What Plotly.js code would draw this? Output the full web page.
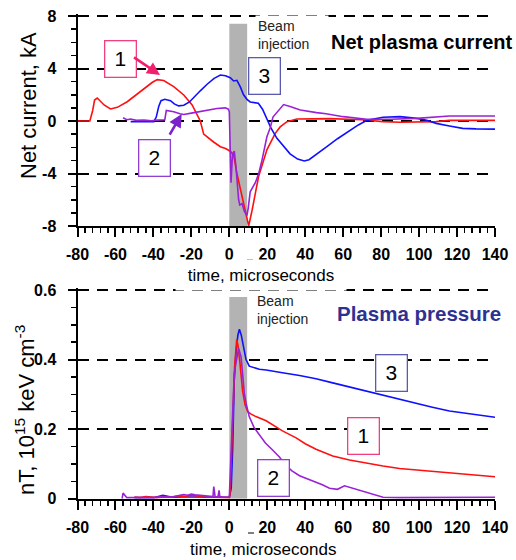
<!DOCTYPE html>
<html>
<head>
<meta charset="utf-8">
<script src="https://cdn.plot.ly/plotly-3.0.1.min.js"></script>
<style>html,body{margin:0;padding:0;background:#fff;}#chart{width:516px;height:560px;}</style>
</head>
<body>
<div id="chart"></div>
<script>
// ---------- Tick labels ----------
const xTickVals = [-80, -60, -40, -20, 0, 20, 40, 60, 80, 100, 120, 140];
const xTickText = ["-80", "-60", "-40", "-20", "0", "20", "40", "60", "80", "100", "120", "140"];
const yTopTickVals = [-8, -4, 0, 4, 8];
const yTopTickText = ["-8", "-4", "0", "4", "8"];
const yBotTickVals = [0, 0.2, 0.4, 0.6];
const yBotTickText = ["0", "0.2", "0.4", "0.6"];

// ---------- Beam injection window (microseconds) ----------
const beamStart = 0;
const beamEnd = 9.4;
const beamTopCurrent = 7.4;
const beamTopPressure = 0.58;

// ---------- Net plasma current (kA) ----------
const cur1_t = [-80, -73.5, -72, -71, -69.6, -66, -62.6, -59, -53.8, -46.8, -40.7, -38, -34.6, -29.3, -24, -19.6, -15.3, -13.5, -10, -8.3, -4.7, -2, 0.5, 2.3, 4, 6.7, 10.2, 12, 15.4, 19.8, 22, 24.2, 26.8, 30.4, 35.6, 53, 70, 81, 90, 99, 109, 116, 140];
const cur1_v = [0, 0, 0.8, 1.6, 1.75, 1.22, 0.92, 1.04, 1.47, 2.24, 2.93, 3.15, 3.08, 2.62, 1.98, 1.22, 0.0, -1.0, -1.45, -1.6, -1.96, -2.1, -2.3, -2.6, -4.0, -5.8, -8.0, -6.8, -4.25, -2.2, -1.5, -0.94, -0.45, -0.05, 0.15, 0.18, 0.1, -0.05, -0.1, -0.1, -0.05, 0.05, 0.05];

const cur2_t = [-56, -54, -52, -49, -45, -41, -38, -34, -33.2, -32, -29.3, -26, -24, -20, -15.3, -10, -6.5, -2.1, -0.5, 0, 0.3, 0.9, 1.5, 1.8, 2.6, 3.5, 4.9, 5.5, 6.7, 8, 9.3, 10, 11, 13.7, 15.5, 17.2, 19.8, 21.6, 23, 25, 28.6, 32, 37.4, 46, 51, 60, 72.5, 84.7, 98.8, 116, 140];
const cur2_v = [0.25, 0.1, 0.15, 0.05, 0.07, 0.02, 0.07, 0.1, 0.8, 0.78, 0.7, 0.55, 0.5, 0.6, 0.72, 0.85, 0.95, 1.0, 0.9, 0.7, -1.7, -4.7, -3.0, -2.5, -2.3, -3.5, -6.0, -6.4, -6.3, -6.9, -7.2, -6.6, -5.4, -4.7, -4.0, -3.0, -1.2, -0.5, 0.3, 0.65, 1.25, 1.1, 0.84, 0.64, 0.55, 0.33, 0.13, 0.13, 0.2, 0.38, 0.38];

const cur3_t = [-52, -45, -39.8, -38.5, -37.2, -36, -34, -31, -29, -26.7, -24, -21, -18.8, -15.3, -11.7, -8, -4.7, -2, 0.5, 2.3, 4, 5.8, 7.5, 9.3, 11, 13, 15.3, 17.5, 19.8, 22, 25, 28.6, 32, 36, 39.5, 42, 46, 51.4, 57, 63.7, 68, 72.5, 77, 81, 90, 98.8, 104, 109, 116, 123, 130, 140];
const cur3_v = [-0.05, -0.08, -0.05, 0.3, 1.1, 1.55, 1.65, 1.55, 1.3, 1.15, 1.2, 1.45, 1.8, 2.3, 2.8, 3.25, 3.5, 3.45, 3.3, 3.05, 3.1, 2.6, 2.0, 1.65, 1.45, 1.4, 1.35, 0.9, 0.1, -0.55, -1.3, -1.95, -2.5, -2.9, -3.05, -2.95, -2.55, -1.96, -1.35, -0.7, -0.3, 0.05, 0.2, 0.28, 0.33, 0.2, 0.05, -0.18, -0.38, -0.56, -0.6, -0.62];

// ---------- Plasma pressure (1e15 keV cm^-3) ----------
const pr1_t = [-50, -47, -44, -41, -38, -35, -32, -29, -26, -23, -20, -17, -14, -11, -8, -5, -2, 0, 0.5, 1.2, 1.8, 2.8, 3.9, 4.6, 5.6, 7, 8.3, 9.7, 11.5, 14, 19.4, 24.6, 28, 35.2, 40, 45.7, 54.5, 63.3, 72, 81, 89.7, 98.5, 107, 116, 125, 132, 140];
const pr1_v = [0.005, 0.003, 0.006, 0.004, 0.003, 0.005, 0.004, 0.006, 0.008, 0.007, 0.01, 0.008, 0.005, 0.004, 0.004, 0.003, 0.003, 0.003, 0.02, 0.12, 0.26, 0.38, 0.458, 0.44, 0.39, 0.31, 0.27, 0.25, 0.243, 0.236, 0.224, 0.207, 0.195, 0.175, 0.158, 0.142, 0.123, 0.111, 0.102, 0.094, 0.087, 0.083, 0.08, 0.075, 0.071, 0.068, 0.063];

const pr2_t = [-56.5, -56, -54, -50, -45, -40, -35, -30, -26, -24, -22, -20, -18, -16, -14, -12, -10, -8.6, -8.2, -7.5, -6, -5.4, -5, -3, 0, 0.9, 1.8, 2.6, 3.5, 4.9, 6.2, 7.9, 9, 10.5, 13, 15.8, 19, 22.8, 26.4, 29.9, 33, 37, 42, 45.7, 49, 52.8, 57, 60.7, 65, 70.4, 74, 77.4, 81, 90, 100, 110, 120, 130, 140];
const pr2_v = [0.0, 0.016, 0.003, 0.003, 0.004, 0.003, 0.006, 0.005, 0.01, 0.012, 0.01, 0.013, 0.011, 0.01, 0.008, 0.006, 0.005, 0.006, 0.035, 0.006, 0.005, 0.024, 0.006, 0.004, 0.004, 0.12, 0.26, 0.36, 0.39, 0.432, 0.408, 0.303, 0.27, 0.236, 0.205, 0.185, 0.16, 0.14, 0.12, 0.095, 0.08, 0.066, 0.055, 0.049, 0.04, 0.03, 0.027, 0.037, 0.03, 0.02, 0.014, 0.008, 0.004, 0.003, 0.003, 0.003, 0.003, 0.004, 0.004];

const pr3_t = [-50, -45, -40, -35, -30, -25, -20, -15, -10, -5, 0, 1, 1.8, 2.6, 3.5, 4.5, 5.3, 6.3, 7.4, 8.8, 10.5, 15.8, 19.4, 26.4, 28, 37, 45.7, 54.5, 63.3, 72, 81, 89.7, 98.5, 107, 116, 125, 132, 140];
const pr3_v = [0.003, 0.004, 0.003, 0.01, 0.004, 0.005, 0.006, 0.005, 0.004, 0.004, 0.004, 0.03, 0.15, 0.34, 0.42, 0.47, 0.487, 0.47, 0.437, 0.40, 0.381, 0.372, 0.37, 0.365, 0.362, 0.354, 0.345, 0.333, 0.321, 0.31, 0.298, 0.286, 0.274, 0.263, 0.252, 0.245, 0.24, 0.234];

// ---------- styling ----------
const RED = '#ff1010', BLUE = '#1010ff', PURPLE = '#9a22d6';
const FONT = 'Liberation Sans, Arial, sans-serif';
const W = 516, H = 560;
const px = v => v / W;
const py = v => 1 - v / H;

function line(x, y, color, xa, ya) {
  return {x: x, y: y, xaxis: xa, yaxis: ya, type: 'scatter', mode: 'lines',
          line: {color: color, width: 1.6}, hoverinfo: 'skip', showlegend: false};
}

const data = [
  line(cur1_t, cur1_v, RED, 'x', 'y'),
  line(cur3_t, cur3_v, BLUE, 'x', 'y'),
  line(cur2_t, cur2_v, PURPLE, 'x', 'y'),
  line(pr3_t, pr3_v, BLUE, 'x2', 'y2'),
  line(pr1_t, pr1_v, RED, 'x2', 'y2'),
  line(pr2_t, pr2_v, PURPLE, 'x2', 'y2')
];

const xDomain = [77.5 / W, 495 / W];
function xaxisDef(anchor) {
  return {
    domain: xDomain, anchor: anchor, range: [-80, 140],
    tickmode: 'array', tickvals: xTickVals, ticktext: xTickText,
    showgrid: false, zeroline: false,
    showline: true, linecolor: '#000', linewidth: 2,
    ticks: 'outside', ticklen: 9, tickwidth: 2, tickcolor: '#000',
    ticklabelstandoff: 4,
    minor: {dtick: 4, tick0: 0, ticks: 'outside', ticklen: 5, tickwidth: 1.5, tickcolor: '#000', showgrid: false},
    tickfont: {family: FONT, size: 16, color: '#000', weight: 'bold'}
  };
}
function yaxisDef(anchor, dom, range, vals, text, minorStep) {
  return {
    domain: dom, anchor: anchor, range: range,
    tickmode: 'array', tickvals: vals, ticktext: text,
    showgrid: true, gridcolor: '#000', gridwidth: 2, griddash: '11px,8px',
    zeroline: false,
    showline: true, linecolor: '#000', linewidth: 2,
    ticks: 'outside', ticklen: 8, tickwidth: 2, tickcolor: '#000',
    ticklabelstandoff: 8,
    minor: {dtick: minorStep, tick0: 0, ticks: 'outside', ticklen: 5, tickwidth: 1.5, tickcolor: '#000', showgrid: false},
    tickfont: {family: FONT, size: 16, color: '#000', weight: 'bold'}
  };
}

function box(label, xp, yp, color) {
  return {xref: 'paper', yref: 'paper', x: px(xp), y: py(yp), xanchor: 'center', yanchor: 'middle',
          text: label, showarrow: false, font: {family: FONT, size: 21, color: '#000'},
          bgcolor: '#fff', bordercolor: color, borderwidth: 1.3, borderpad: 0, width: 30, height: 35};
}
function arrow(xa, ya, hx, hy, ax, ay, color) {
  return {xref: xa, yref: ya, x: hx, y: hy, ax: ax, ay: ay, axref: 'pixel', ayref: 'pixel',
          text: ' ', showarrow: true, arrowhead: 2, arrowsize: 1, arrowwidth: 2.6, arrowcolor: color,
          standoff: 0, startstandoff: 0, font: {size: 4}};
}

const annotations = [
  {xref: 'paper', yref: 'paper', x: px(28), y: py(106), text: 'Net current, kA', textangle: -90,
   showarrow: false, font: {family: FONT, size: 22, color: '#000'}, xanchor: 'center', yanchor: 'middle'},
  {xref: 'paper', yref: 'paper', x: px(25), y: py(410), text: 'nT, 10<sup>15</sup> keV cm<sup>-3</sup>', textangle: -90,
   showarrow: false, font: {family: FONT, size: 22, color: '#000'}, xanchor: 'center', yanchor: 'middle'},
  {xref: 'paper', yref: 'paper', x: px(261), y: py(275), text: 'time, microseconds', showarrow: false,
   font: {family: FONT, size: 17, color: '#000'}, xanchor: 'center', yanchor: 'middle',
   bgcolor: '#fff', width: 170, height: 30, borderpad: 0},
  {xref: 'paper', yref: 'paper', x: px(263), y: py(549), text: 'time, microseconds', showarrow: false,
   font: {family: FONT, size: 17, color: '#000'}, xanchor: 'center', yanchor: 'middle'},
  {xref: 'paper', yref: 'paper', x: px(422), y: py(42), text: 'Net plasma current', showarrow: false,
   font: {family: FONT, size: 20, color: '#000', weight: 'bold'}, xanchor: 'center', yanchor: 'middle', borderpad: 0},
  {xref: 'paper', yref: 'paper', x: px(335), y: py(313), text: 'Plasma pressure', showarrow: false,
   font: {family: FONT, size: 20.5, color: '#2e3192', weight: 'bold'}, xanchor: 'left', yanchor: 'middle'},
  {xref: 'paper', yref: 'paper', x: px(255), y: py(34.5), text: 'Beam<br>injection', showarrow: false, align: 'left',
   font: {family: FONT, size: 14, color: '#222'}, xanchor: 'left', yanchor: 'middle',
   bgcolor: '#fff', width: 68, borderpad: 2},
  {xref: 'paper', yref: 'paper', x: px(255), y: py(310), text: 'Beam<br>injection', showarrow: false, align: 'left',
   font: {family: FONT, size: 14, color: '#222'}, xanchor: 'left', yanchor: 'middle', width: 68},
  box('1', 120, 59.5, '#f0407f'),
  box('2', 154.5, 157.5, '#9040d0'),
  box('3', 264, 76, '#5a5ab0'),
  box('3', 391.5, 373, '#5a5ab0'),
  box('1', 363, 435.5, '#f0407f'),
  box('2', 273, 477.5, '#9040d0'),
  arrow('x', 'y', -36.5, 3.5, -28, -19, '#f0206e'),
  arrow('x', 'y', -25.1, 0.53, -14, 24, '#7a22cc')
];

const shapes = [
  {type: 'rect', xref: 'x', yref: 'y', x0: beamStart, x1: beamEnd, y0: -8, y1: beamTopCurrent,
   fillcolor: '#b3b3b3', line: {width: 0}, layer: 'between'},
  {type: 'rect', xref: 'x2', yref: 'y2', x0: beamStart, x1: beamEnd, y0: 0, y1: beamTopPressure,
   fillcolor: '#b3b3b3', line: {width: 0}, layer: 'between'},
  {type: 'line', xref: 'paper', yref: 'paper', x0: px(247), x1: px(253), y0: py(260), y1: py(260), line: {color: '#000', width: 1}},
  {type: 'line', xref: 'paper', yref: 'paper', x0: px(248), x1: px(254), y0: py(533), y1: py(533), line: {color: '#000', width: 1}}
];

// top range slightly above 8 and 0.6 so the edge gridlines are drawn
const layout = {
  width: W, height: H, margin: {l: 0, r: 0, t: 0, b: 0},
  paper_bgcolor: '#fff', plot_bgcolor: 'rgba(0,0,0,0)',
  showlegend: false,
  xaxis: xaxisDef('y'),
  yaxis: yaxisDef('x', [1 - 226 / H, 1 - 14.03 / H], [-8, 8.15], yTopTickVals, yTopTickText, 1),
  xaxis2: xaxisDef('y2'),
  yaxis2: yaxisDef('x2', [1 - 498.7 / H, 1 - 287.9 / H], [0, 0.606], yBotTickVals, yBotTickText, 0.05),
  annotations: annotations,
  shapes: shapes,
  font: {family: FONT}
};

Plotly.newPlot('chart', data, layout, {staticPlot: true, displayModeBar: false});
</script>
</body>
</html>
